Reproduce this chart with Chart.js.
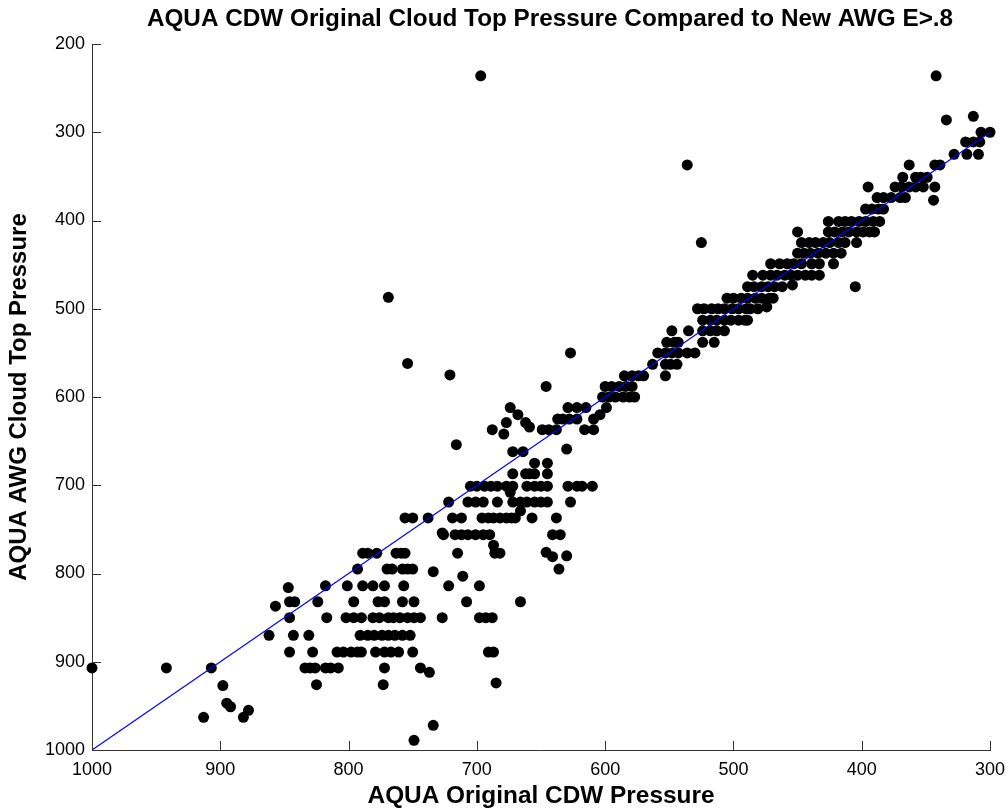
<!DOCTYPE html>
<html><head><meta charset="utf-8">
<script src="https://cdn.jsdelivr.net/npm/chart.js@4/dist/chart.umd.min.js"></script>
<style>html,body{margin:0;padding:0;background:#fff;}#wrap{width:1006px;height:809px;position:relative;background:#fff;}</style>
</head><body><div id="wrap"><canvas id="c"></canvas></div>
<script>
const chartTitle = 'AQUA CDW Original Cloud Top Pressure Compared to New AWG E>.8';
const xAxisTitle = 'AQUA Original CDW Pressure';
const yAxisTitle = 'AQUA AWG Cloud Top Pressure';
const xTickValues = [300, 400, 500, 600, 700, 800, 900, 1000];
const yTickValues = [200, 300, 400, 500, 600, 700, 800, 900, 1000];
const oneToOneLine = [1000, 300];

// AWG cloud top pressure levels (y) and the CDW pressures (x) of the points on each level
const awgLevels = [236, 282, 286, 300, 311, 325, 337, 351, 362, 374, 377, 387, 401, 413, 425, 437, 449, 462, 473, 475, 487, 488, 498, 500, 513, 525, 538, 550, 562, 563, 575, 576, 588, 600, 612, 620, 625, 629, 634, 637, 642, 654, 659, 662, 675, 687, 701, 708, 719, 729, 737, 754, 756, 768, 776, 777, 780, 781, 795, 798, 803, 814, 816, 832, 837, 850, 870, 889, 907, 912, 924, 926, 927, 947, 951, 955, 963, 972, 989];
const cdwAtLevel = [
  [697, 342],
  [313],
  [334],
  [307, 300],
  [319, 313, 308],
  [328, 318, 309],
  [536, 363, 343, 339],
  [368, 358, 354, 349],
  [395, 374, 369, 363, 358, 352, 343],
  [388, 383, 377, 370, 366],
  [344],
  [397, 392, 387, 383],
  [426, 418, 413, 408, 402, 397, 391, 386],
  [450, 426, 421, 415, 410, 404, 399, 394, 390],
  [525, 447, 441, 436, 430, 425, 418, 413, 404],
  [450, 445, 440, 434, 428, 422, 416],
  [471, 464, 458, 453, 447, 439, 433, 422],
  [485, 477, 471, 466, 460, 455, 450, 444, 439, 433],
  [454],
  [489, 484, 478, 473, 468, 462, 405],
  [769],
  [505, 500, 494, 489, 483, 478, 472, 469],
  [474],
  [528, 523, 517, 512, 507, 501, 496, 490, 487, 481],
  [524, 518, 513, 507, 502, 496, 491, 489],
  [548, 535, 524, 518, 513, 507],
  [552, 546, 543, 524, 515],
  [627, 559, 553, 548, 543, 536, 530],
  [754],
  [563, 553, 549, 544],
  [721],
  [585, 579, 574, 570, 553],
  [646, 600, 595, 589, 584, 579],
  [602, 597, 592, 586, 581, 577],
  [674, 629, 622, 615, 599],
  [668, 604],
  [637, 633, 628, 622, 609],
  [677, 662],
  [659],
  [688, 649, 644, 638, 616, 609],
  [679],
  [716],
  [630],
  [672, 664],
  [655, 645],
  [672, 662, 659, 655, 645],
  [705, 700, 694, 689, 684, 677, 672, 661, 655, 650, 645, 629, 622, 618, 610],
  [674],
  [722, 707, 701, 695, 684, 672, 666, 661, 655, 650, 645, 627],
  [666],
  [756, 750, 738, 719, 712, 696, 691, 687, 682, 677, 673, 670, 657, 638],
  [727],
  [726, 717, 712, 707, 701, 695, 690, 641, 635],
  [687],
  [646],
  [789, 785, 778, 763, 759, 756, 715, 686, 682],
  [630],
  [641],
  [793, 770, 766, 758, 754, 750, 636],
  [734],
  [711],
  [818, 801, 789, 781, 772, 757, 722, 698],
  [847],
  [846, 842, 824, 796, 777, 772, 758, 749, 708, 666],
  [857],
  [846, 817, 802, 796, 790, 781, 776, 769, 765, 760, 754, 749, 744, 727, 698, 693, 688],
  [862, 843, 831, 791, 785, 780, 774, 769, 764, 758, 752],
  [846, 828, 809, 804, 798, 793, 790, 779, 772, 767, 761, 750, 691, 687],
  [1000, 942, 907, 834, 830, 826, 818, 814, 808, 772, 744],
  [737],
  [685],
  [825, 773],
  [898],
  [895],
  [892],
  [878],
  [913, 882],
  [734],
  [749]
];

const points = [];
awgLevels.forEach((lvl, i) => cdwAtLevel[i].forEach(xv => points.push({x: xv, y: lvl})));

const FONT = '"Liberation Sans", Arial, Helvetica, sans-serif';

const extras = {
  id: 'extras',
  afterDraw(chart) {
    const {ctx, scales: {x, y}, chartArea} = chart;
    ctx.save();
    ctx.strokeStyle = '#333';
    ctx.lineWidth = 1;
    ctx.beginPath();
    xTickValues.forEach(v => {
      const px = Math.round(x.getPixelForValue(v)) + 0.5;
      ctx.moveTo(px, chartArea.bottom);
      ctx.lineTo(px, chartArea.bottom - 9);
    });
    yTickValues.forEach(v => {
      const py = Math.round(y.getPixelForValue(v)) + 0.5;
      ctx.moveTo(chartArea.left, py);
      ctx.lineTo(chartArea.left + 9, py);
    });
    ctx.stroke();
    ctx.fillStyle = '#000';
    ctx.font = 'bold 24.3px ' + FONT;
    ctx.textAlign = 'center';
    ctx.textBaseline = 'middle';
    ctx.fillText(chartTitle, (chartArea.left + chartArea.right) / 2 + 9, 19);
    ctx.restore();
  }
};

new Chart(document.getElementById('c'), {
  type: 'scatter',
  data: {
    datasets: [
      {
        type: 'line',
        data: oneToOneLine.map(v => ({x: v, y: v})),
        borderColor: '#0000ff',
        borderWidth: 1.2,
        pointRadius: 0,
        fill: false,
        order: 0,
        clip: false
      },
      {
        data: points,
        backgroundColor: '#000',
        borderWidth: 0,
        pointRadius: 5.5,
        pointHoverRadius: 5.5,
        order: 1,
        clip: false
      }
    ]
  },
  options: {
    responsive: true,
    maintainAspectRatio: false,
    animation: false,
    events: [],
    layout: {padding: {top: 44, right: 16, left: 0, bottom: 0}},
    plugins: {legend: {display: false}, tooltip: {enabled: false}, title: {display: false}},
    scales: {
      x: {
        type: 'linear', position: 'bottom', min: 300, max: 1000, reverse: true,
        afterBuildTicks: s => { s.ticks = xTickValues.map(v => ({value: v})); },
        afterFit: s => { s.height = 59; s.paddingLeft = 0; s.paddingRight = 0; },
        grid: {display: false, drawTicks: false},
        border: {display: true, color: '#333', width: 1},
        ticks: {color: '#000', padding: 9, font: {family: FONT, size: 18}, maxRotation: 0, autoSkip: false, callback: v => String(v)},
        title: {display: true, text: xAxisTitle, color: '#000', font: {family: FONT, size: 24.4, weight: 'bold', lineHeight: 1}, padding: {top: 0, bottom: 1}}
      },
      y: {
        type: 'linear', position: 'left', min: 200, max: 1000, reverse: true,
        afterBuildTicks: s => { s.ticks = yTickValues.map(v => ({value: v})); },
        afterFit: s => { s.width = 92; s.paddingTop = 0; s.paddingBottom = 0; },
        grid: {display: false, drawTicks: false},
        border: {display: true, color: '#333', width: 1},
        ticks: {color: '#000', padding: 7, font: {family: FONT, size: 18}, autoSkip: false, callback: v => String(v)},
        title: {display: true, text: yAxisTitle, color: '#000', font: {family: FONT, size: 24, weight: 'bold', lineHeight: 1}, padding: {top: 7, bottom: 0}}
      }
    }
  },
  plugins: [extras]
});
</script>
</body></html>
